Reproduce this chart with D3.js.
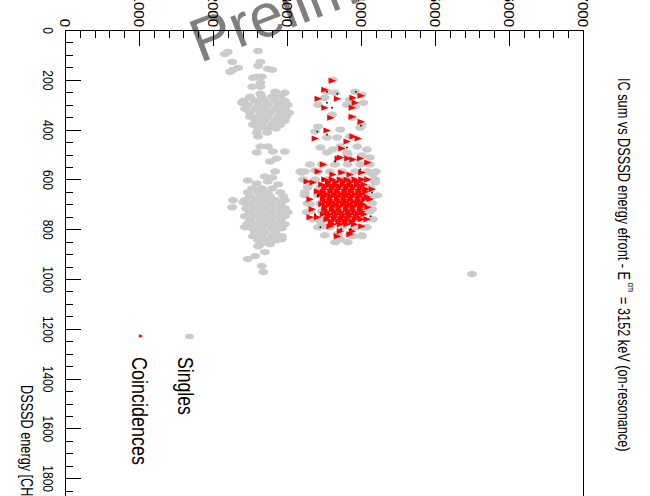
<!DOCTYPE html>
<html>
<head>
<meta charset="utf-8">
<script src="https://cdn.jsdelivr.net/npm/d3@7"></script>
<style>
  body { margin: 0; background: #fff; }
  svg { display: block; }
</style>
</head>
<body>
<svg id="chart" width="650" height="496"></svg>
<script>
// ---- data: [DSSSD energy (CH), [IC sum values ...]] ----
const singlesUpper = [
  [84, [2610]], [88, [2200]], [96, [2160]], [128, [2260, 2640]], [144, [2610]],
  [152, [2340]], [156, [2740]], [160, [2270, 2800]], [168, [2230]],
  [188, [2590, 2660]], [192, [2540]], [212, [2640]], [228, [2530, 2640]],
  [248, [2840]], [252, [2970]], [256, [2640]],
  [268, [2500, 2660, 2800, 2910]], [272, [2500]], [284, [2410, 2570, 2700, 2840, 2970]],
  [292, [2390]], [300, [2470, 2610, 2740, 2880, 3010]], [316, [2430, 2570, 2700, 2840, 2970]],
  [332, [2500, 2640, 2770, 2910, 3030]], [348, [2500, 2610, 2740, 2880, 2990]],
  [364, [2570, 2700, 2840, 2970]], [380, [2540, 2660, 2800, 2910]],
  [396, [2610, 2740, 2850]], [412, [2590, 2730]], [428, [2610]], [468, [2640, 2740]]
];
const singlesLower = [
  [488, [2810, 2970]], [492, [2590]], [516, [2860]], [528, [2770]], [568, [2840]],
  [588, [2700]], [592, [2800]], [604, [2470]], [608, [2740]], [616, [2590]], [620, [2880]],
  [636, [2530, 2660, 2800]], [652, [2470, 2610, 2740, 2910]], [668, [2500, 2640, 2770, 2950]],
  [684, [2270, 2430, 2570, 2700, 2840, 2970]], [692, [2410]], [700, [2500, 2640, 2770, 2910]],
  [712, [2260]], [716, [2450, 2570, 2700, 2840, 2970]], [720, [2460]],
  [732, [2500, 2640, 2770, 2910, 3010]], [748, [2430, 2570, 2700, 2840, 2970]],
  [764, [2500, 2640, 2770, 2910]], [780, [2460, 2590, 2730, 2860, 2970]],
  [792, [2430]], [796, [2530, 2660, 2800, 2930]], [812, [2570, 2700, 2840]],
  [828, [2540, 2660, 2800, 2930]], [840, [2930]], [844, [2610, 2740, 2850]],
  [860, [2640, 2770]], [868, [2610]], [892, [2700]], [908, [2570]], [920, [2470]],
  [948, [2660]], [972, [2680]], [980, [5500]]
];
const singlesRight = [
  [200, [3620]], [248, [3540, 3920]], [252, [3650]], [260, [4010]], [272, [3510]],
  [280, [3850]], [292, [4030]], [300, [3420, 3810]], [308, [3920]], [340, [3610]],
  [352, [3880]], [380, [4010]], [388, [3420]], [392, [3990]], [400, [3720]], [408, [3380]],
  [428, [3850]], [432, [3540, 3680]], [468, [3720, 3950]], [472, [3450]],
  [480, [3620, 4080]], [492, [3540, 3810]], [500, [3820]], [504, [4010]], [512, [4120]],
  [540, [3310, 3470, 3650, 3820, 3990, 4120]], [564, [3380]],
  [568, [3180, 3240, 3420, 3580, 3740, 3920, 4090, 4200]], [572, [3200]], [580, [4160]],
  [600, [3220, 3380, 3550, 3720, 3880, 4050, 4190]], [612, [4190]],
  [632, [3280, 3450, 3610, 3780, 3960, 4120]], [652, [3240]],
  [664, [3240, 3420, 3580, 3740, 3920, 4090, 4220]], [668, [4160]],
  [696, [3280, 3450, 3610, 3780, 3960, 4150]], [700, [3310]], [720, [4150]],
  [728, [3310, 3470, 3650, 3820, 3990, 4120]], [732, [3270]],
  [760, [3340, 3510, 3690, 3850, 4010, 4160]], [768, [3450]], [788, [3490]],
  [792, [3420, 3580, 3740, 3920, 4050, 4080]], [820, [3680]],
  [824, [3510, 3690, 3850, 4010]], [828, [3890, 4010]], [840, [3720]], [852, [3650, 3820]]
];
const coincidences = [
  [204, [3610]], [240, [3510]], [264, [4000]], [272, [3890]], [276, [3420, 3680]],
  [292, [3920]], [312, [3510, 3880]], [348, [3880]], [352, [3590]], [368, [4000]],
  [404, [3540]], [428, [3890]], [436, [3380, 3960]], [448, [3810]], [476, [3740]],
  [512, [3720]], [516, [3690, 3820, 3990]], [520, [3890]], [532, [4090]], [540, [3490]],
  [568, [3420]], [572, [3740, 4010]], [580, [3620, 3850]],
  [600, [3510, 3610, 3720, 3810, 3920, 4010, 4090]], [608, [3270]], [610, [3560, 3660, 3760, 3860, 3960]],
  [612, [3350]], [620, [3470, 3570, 3660, 3760, 3850, 3950, 4040]],
  [630, [3520, 3620, 3710, 3810, 3900, 4000]],
  [640, [3510, 3610, 3700, 3800, 3890, 3990, 4070, 4150]], [648, [3410]],
  [650, [3490, 3590, 3680, 3780, 3870, 3970, 4060]],
  [660, [3450, 3540, 3640, 3730, 3820, 3920, 4010]],
  [670, [3500, 3600, 3690, 3790, 3880, 3980, 4080]],
  [680, [3310, 3490, 3580, 3680, 3770, 3860, 3960, 4050, 4120]],
  [690, [3520, 3610, 3710, 3800, 3900, 3990]],
  [700, [3470, 3570, 3660, 3760, 3850, 3950, 4030]],
  [710, [3520, 3620, 3710, 3810, 3900, 4000]], [712, [4090]],
  [720, [3340, 3510, 3610, 3700, 3800, 3890, 3990]],
  [730, [3540, 3640, 3730, 3830, 3920, 4010]],
  [740, [3490, 3580, 3680, 3770, 3860, 3960, 4040]],
  [750, [3560, 3650, 3750, 3840, 3940]], [752, [3310, 3410]],
  [760, [3540, 3640, 3730, 3820, 3920, 4000, 4080]],
  [770, [3600, 3700, 3790, 3880]],
  [780, [3620, 3720, 3810, 3910]], [788, [3580, 4010]], [808, [3720, 3880]],
  [820, [3850]], [828, [3680]]
];
const blackDots = [
  [248, [3540, 3930]], [256, [3680]], [292, [3540]], [312, [3610]], [384, [4000]],
  [408, [3410]], [420, [3540]], [472, [3810]], [528, [3650]], [560, [3990]],
  [600, [3490]], [652, [4150]], [668, [3420]], [740, [3380]], [748, [4130]],
  [792, [3450]], [800, [3730, 3860]]
];

const icTicks = [0, 1000, 2000, 3000, 4000, 5000, 6000, 7000];
const dsssdTicks = [0, 200, 400, 600, 800, 1000, 1200, 1400, 1600, 1800];
const legendLabels = ["Singles", "Coincidences"];
const titleMain = "IC sum vs DSSSD energy efront - E";
const titleSub = "cm";
const titleTail = " = 3152 keV (on-resonance)";
const xTitle = "DSSSD energy [CH]";

// ---- drawing ----
const FONT = "'Liberation Sans',Arial,sans-serif";
const svg = d3.select("#chart");

// the picture is the ROOT canvas turned by 90 degrees:
// IC sum runs left -> right on screen, DSSSD energy runs top -> bottom
const x = d3.scaleLinear().domain([0, 7000]).range([65, 583]);
const y = d3.scaleLinear().domain([0, 2000]).range([30, 528]);

const flat = rows => rows.flatMap(r => r[1].map(v => ({d: r[0], ic: v})));

// squeeze a rotated text to a given length (ROOT uses a narrow helvetica)
function fitText(sel, base, target) {
  const w = sel.node().getComputedTextLength();
  sel.attr("transform", `${base} scale(${target / w},1)`);
}

// watermark behind everything
svg.append("text")
  .attr("transform", "translate(200,63) rotate(-21)")
  .attr("font-family", FONT)
  .attr("font-size", 61)
  .attr("fill", "#7f7f7f")
  .text("Preliminary");

// singles
svg.append("g").selectAll("ellipse")
  .data(flat(singlesUpper).concat(flat(singlesLower), flat(singlesRight)))
  .join("ellipse")
  .attr("cx", p => x(p.ic))
  .attr("cy", p => y(p.d))
  .attr("rx", 5)
  .attr("ry", 3.2)
  .attr("fill", "#cbcbcb");

// coincidences
const flag = "M-3.5,-3L4,0L-3.5,3Z";
svg.append("g").selectAll("path")
  .data(flat(coincidences))
  .join("path")
  .attr("d", flag)
  .attr("transform", p => `translate(${x(p.ic)},${y(p.d)})`)
  .attr("fill", "#ff0000");

svg.append("g").selectAll("rect")
  .data(flat(blackDots))
  .join("rect")
  .attr("x", p => x(p.ic) - 0.8)
  .attr("y", p => y(p.d) - 0.8)
  .attr("width", 1.6)
  .attr("height", 1.6)
  .attr("fill", "#000");

// axes
function styleAxis(g) {
  g.attr("font-family", FONT).attr("font-size", 15);
  g.selectAll("line, path").attr("stroke", "#000").attr("shape-rendering", "crispEdges");
}

const icMinor = d3.range(0, 7001, 200).filter(v => v % 1000 !== 0);
const dMinor = d3.range(0, 2001, 50).filter(v => v % 200 !== 0);

svg.append("g").attr("transform", "translate(0,30)")
  .call(d3.axisTop(x).tickValues(icMinor).tickSize(-7.5).tickSizeOuter(0).tickFormat(""))
  .call(styleAxis);
svg.append("g").attr("transform", "translate(0,30)")
  .call(d3.axisTop(x).tickValues(icTicks).tickSize(-15.5).tickSizeOuter(0).tickFormat(d3.format("d")))
  .call(styleAxis)
  .call(g => g.selectAll("text")
    .attr("x", 0).attr("y", 0).attr("dy", null)
    .attr("text-anchor", "end")
    .attr("transform", "translate(-6,-3) rotate(90)"));

svg.append("g").attr("transform", "translate(65,0)")
  .call(d3.axisLeft(y).tickValues(dMinor).tickSize(-7.7).tickSizeOuter(0).tickFormat(""))
  .call(styleAxis);
svg.append("g").attr("transform", "translate(65,0)")
  .call(d3.axisLeft(y).tickValues(dsssdTicks).tickSize(-15.5).tickSizeOuter(0).tickFormat(d3.format("d")))
  .call(styleAxis)
  .call(g => g.selectAll("text")
    .attr("x", 0).attr("y", 0).attr("dy", null)
    .attr("text-anchor", "middle")
    .attr("transform", "translate(-22,0) rotate(90) scale(0.8,1)"));

// right edge of the frame
svg.append("line")
  .attr("x1", x(7000)).attr("x2", x(7000))
  .attr("y1", 30).attr("y2", 496)
  .attr("stroke", "#000").attr("shape-rendering", "crispEdges");

// axis title
const xt = svg.append("text")
  .attr("font-family", FONT).attr("font-size", 16)
  .text(xTitle);
fitText(xt, "translate(21,385) rotate(90)", 115);

// plot title on the right
const t = svg.append("text")
  .attr("font-family", FONT).attr("font-size", 16);
t.append("tspan").text(titleMain);
t.append("tspan").attr("font-size", 9).attr("dy", -10).attr("dx", 3).text(titleSub);
t.append("tspan").attr("dy", 10).attr("dx", 2).text(titleTail);
fitText(t, "translate(618,78) rotate(90)", 370);

// legend
const legendX = [178, 132];
const legendLen = [58, 108];
svg.append("ellipse")
  .attr("cx", 189.5).attr("cy", 336.5).attr("rx", 4.5).attr("ry", 2.8)
  .attr("fill", "#cbcbcb");
svg.append("path")
  .attr("d", flag)
  .attr("transform", "translate(141,336) scale(0.6)")
  .attr("fill", "#ff0000");
legendLabels.forEach((lab, i) => {
  const lt = svg.append("text")
    .attr("font-family", FONT).attr("font-size", 22)
    .text(lab);
  fitText(lt, `translate(${legendX[i]},357) rotate(90)`, legendLen[i]);
});
</script>
</body>
</html>
